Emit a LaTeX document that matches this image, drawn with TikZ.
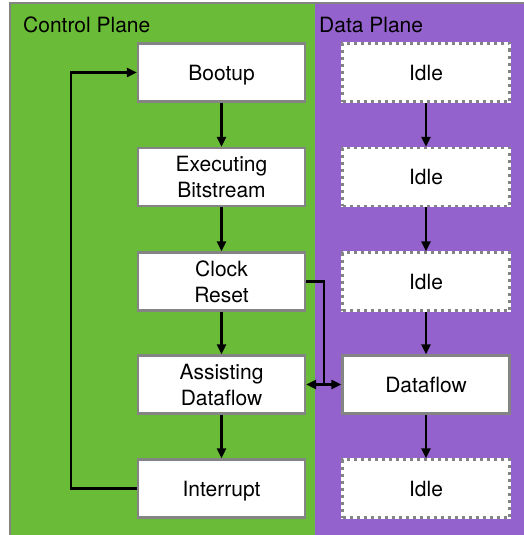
\documentclass[tikz,border=0pt]{standalone}
\usepackage{fontspec}
\setmainfont{TeX Gyre Heros}
\usetikzlibrary{arrows.meta}
\definecolor{cpgreen}{RGB}{106,188,56}
\definecolor{dppurple}{RGB}{148,98,204}
\definecolor{bordergray}{RGB}{132,132,132}
\tikzset{
  statebox/.style={draw=bordergray, line width=2.2pt, fill=white, minimum width=167pt, minimum height=58pt, inner sep=0pt, align=center, font=\fontsize{21}{26}\selectfont},
  singleline/.style={text height=15pt, text depth=0pt},
  idlebox/.style={statebox, singleline, draw=bordergray, dash pattern=on 3pt off 4pt,
     preaction={draw=white, solid, line width=2.2pt}},
  flow/.style={line width=2.2pt, draw=black, -{Triangle[length=10pt,width=9pt]}},
  link/.style={line width=2.2pt, draw=black},
  planelabel/.style={anchor=base west, inner sep=0pt, font=\fontsize{21}{26}\selectfont}
}
\begin{document}
\begin{tikzpicture}[x=1pt,y=-1pt]
\useasboundingbox (0,0) rectangle (524,535);
% planes
\fill[cpgreen] (9.7,3) rectangle (315,545);
\fill[dppurple] (315,3) rectangle (535,545);
\draw[bordergray, line width=2.4pt] (9.7,545) -- (9.7,3) -- (535,3);
\node[planelabel] (cplabel) at (23,33) {Control Plane};
\node[planelabel] (dplabel) at (319,33) {Data Plane};
% control plane states
\node[statebox, singleline] (boot) at (221.5,72.5) {Bootup};
\node[statebox] (exec) at (221.5,177) {Executing\\Bitstream};
\node[statebox] (clock) at (221.5,281.5) {Clock\\Reset};
\node[statebox] (assist) at (221.5,384.5) {Assisting\\Dataflow};
\node[statebox, singleline] (intr) at (221.5,488.5) {Interrupt};
% data plane states
\node[idlebox] (idle1) at (426,72.5) {Idle};
\node[idlebox] (idle2) at (426,177) {Idle};
\node[idlebox] (idle3) at (426,281.5) {Idle};
\node[statebox, singleline] (df) at (426,384.5) {Dataflow};
\node[idlebox] (idle5) at (426,488.5) {Idle};
% vertical flows
\draw[flow] (boot) -- (exec);
\draw[flow] (exec) -- (clock);
\draw[flow] (clock) -- (assist);
\draw[flow] (assist) -- (intr);
\draw[flow] (idle1) -- (idle2);
\draw[flow] (idle2) -- (idle3);
\draw[flow] (idle3) -- (df);
\draw[flow] (df) -- (idle5);
% feedback loop
\coordinate (loopbot) at (71,488.5);
\coordinate (looptop) at (71,72.5);
\draw[flow] (intr.west) -- (loopbot) -- (looptop) -- (boot.west);
% clock reset to dataflow link
\coordinate (crturn) at (324,281.5);
\coordinate (crjoin) at (324,384.5);
\draw[link] (clock.east) -- (crturn) -- (crjoin);
\draw[line width=2.2pt, {Triangle[length=10pt,width=9pt]}-{Triangle[length=10pt,width=9pt]}] (assist.east) -- (df.west);
\end{tikzpicture}
\end{document}
